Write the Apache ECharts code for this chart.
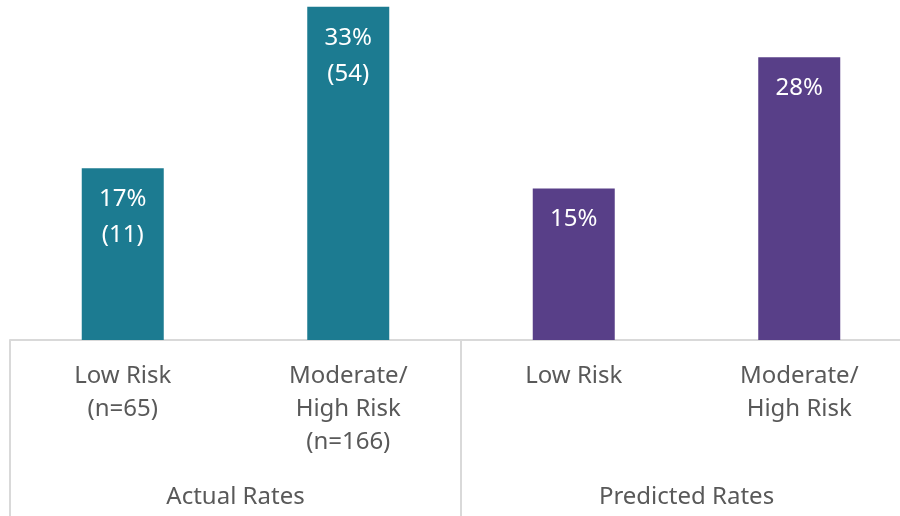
<!DOCTYPE html>
<html>
<head>
<meta charset="utf-8">
<script src="https://cdn.jsdelivr.net/npm/echarts@6/dist/echarts.min.js"></script>
<style>
  html, body { margin: 0; padding: 0; background: #fff; overflow: hidden; }
  #main { width: 914px; height: 516px; }
</style>
</head>
<body>
<div id="main"></div>
<script>
// 数据
var categories = ['Low Risk\n(n=65)', 'Moderate/\nHigh Risk\n(n=166)', 'Low Risk', 'Moderate/\nHigh Risk'];
var groups = ['Actual Rates', 'Predicted Rates'];
var rates = [17, 33, 15, 28];
var counts = ['(11)', '(54)', '', ''];
var barColors = ['#1c7b91', '#1c7b91', '#583f88', '#583f88'];

var myChart = echarts.init(document.getElementById('main'));

var barData = rates.map(function (v, i) {
    return {
        value: v,
        itemStyle: { color: barColors[i] },
        label: {
            formatter: counts[i] ? v + '%\n' + counts[i] : v + '%'
        }
    };
});

var option = {
    animation: false,
    grid: {
        left: 10,
        width: 902,
        top: 0,
        height: 340
    },
    xAxis: [{
        type: 'category',
        data: categories,
        axisLine: { lineStyle: { color: '#d9d9d9', width: 2 } },
        axisTick: { show: false },
        axisLabel: {
            interval: 0,
            margin: 20,
            color: '#595959',
            fontSize: 24,
            lineHeight: 33,
            fontFamily: 'Noto Sans'
        }
    }, {
        type: 'category',
        position: 'bottom',
        data: groups,
        axisLine: { show: false },
        axisTick: {
            show: true,
            length: 176,
            lineStyle: { color: '#d9d9d9', width: 2 }
        },
        axisLabel: {
            interval: 0,
            margin: 141,
            color: '#595959',
            fontSize: 24,
            lineHeight: 33,
            fontFamily: 'Noto Sans'
        }
    }],
    yAxis: {
        type: 'value',
        min: 0,
        max: 33.66,
        show: false,
        splitLine: { show: false }
    },
    series: [{
        type: 'bar',
        xAxisIndex: 0,
        barWidth: 82,
        data: barData,
        label: {
            show: true,
            position: 'insideTop',
            distance: 13,
            color: '#ffffff',
            fontSize: 24,
            lineHeight: 36,
            fontFamily: 'Noto Sans'
        }
    }]
};

myChart.setOption(option);
</script>
</body>
</html>
